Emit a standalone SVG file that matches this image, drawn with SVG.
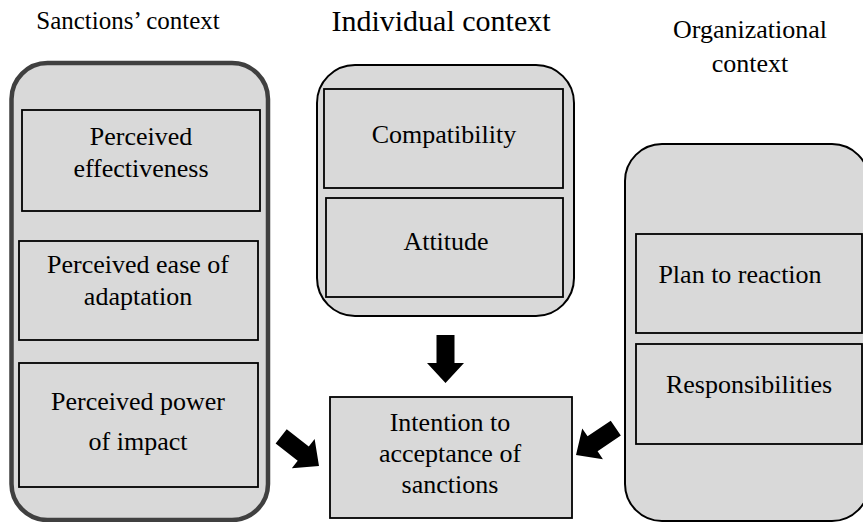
<svg xmlns="http://www.w3.org/2000/svg" width="863" height="522" viewBox="0 0 863 522">
<style>
text{font-family:"Liberation Serif","Times New Roman",serif;fill:#000;text-anchor:middle}
.t{font-size:26px}
.h{font-size:25px}
.box{fill:#d9d9d9;stroke:#000;stroke-width:1.8}
.cont{fill:#d9d9d9;stroke:#000;stroke-width:2}
.arrow{fill:#000}
</style>
<defs>
<path id="blk" d="M-48,-9 L-20,-9 L-20,-18.5 L0,0 L-20,18.5 L-20,9 L-48,9 Z"/>
</defs>
<rect width="863" height="522" fill="#fff"/>
<g id="titles">
<text class="h" x="128" y="29">Sanctions’ context</text>
<text class="h" x="441" y="31" style="font-size:30px">Individual context</text>
<text class="h" x="750" y="38" style="font-size:26px">Organizational</text>
<text class="h" x="750" y="72" style="font-size:26px">context</text>
</g>
<g id="sanctions-context">
<rect x="11.5" y="63" width="256.5" height="457" rx="36" ry="36" fill="#d9d9d9" stroke="#404040" stroke-width="4.5"/>
</g>
<g id="perceived-effectiveness">
<rect class="box" x="22" y="110" width="238" height="101"/>
<text class="t" x="141" y="145">Perceived</text>
<text class="t" x="141" y="177">effectiveness</text>
</g>
<g id="perceived-ease">
<rect class="box" x="19" y="241" width="239" height="99"/>
<text class="t" x="138" y="273">Perceived ease of</text>
<text class="t" x="138" y="305">adaptation</text>
</g>
<g id="perceived-power">
<rect class="box" x="19" y="363" width="239" height="124"/>
<text class="t" x="138" y="410">Perceived power</text>
<text class="t" x="138" y="450">of impact</text>
</g>
<g id="individual-context">
<rect class="cont" x="317" y="65" width="257" height="251" rx="38" ry="38"/>
</g>
<g id="compatibility">
<rect class="box" x="324" y="89" width="239" height="99"/>
<text class="t" x="444" y="143">Compatibility</text>
</g>
<g id="attitude">
<rect class="box" x="326" y="198" width="237" height="99"/>
<text class="t" x="446" y="250">Attitude</text>
</g>
<g id="organizational-context">
<rect class="cont" x="625" y="144" width="244" height="377" rx="37" ry="37"/>
</g>
<g id="plan">
<rect class="box" x="636" y="234" width="226" height="99"/>
<text class="t" x="740" y="283">Plan to reaction</text>
</g>
<g id="responsibilities">
<rect class="box" x="636" y="344" width="226" height="100"/>
<text class="t" x="749" y="393">Responsibilities</text>
</g>
<g id="intention">
<rect class="box" x="330" y="397" width="242" height="121"/>
<text class="t" x="450" y="431">Intention to</text>
<text class="t" x="450" y="462">acceptance of</text>
<text class="t" x="450" y="493">sanctions</text>
</g>
<g id="connectors">
<use href="#blk" class="arrow" transform="translate(445.5,383) rotate(90)"/>
<use href="#blk" class="arrow" transform="translate(319,466) rotate(38)"/>
<use href="#blk" class="arrow" transform="translate(576,455) rotate(146)"/>
</g>
</svg>
